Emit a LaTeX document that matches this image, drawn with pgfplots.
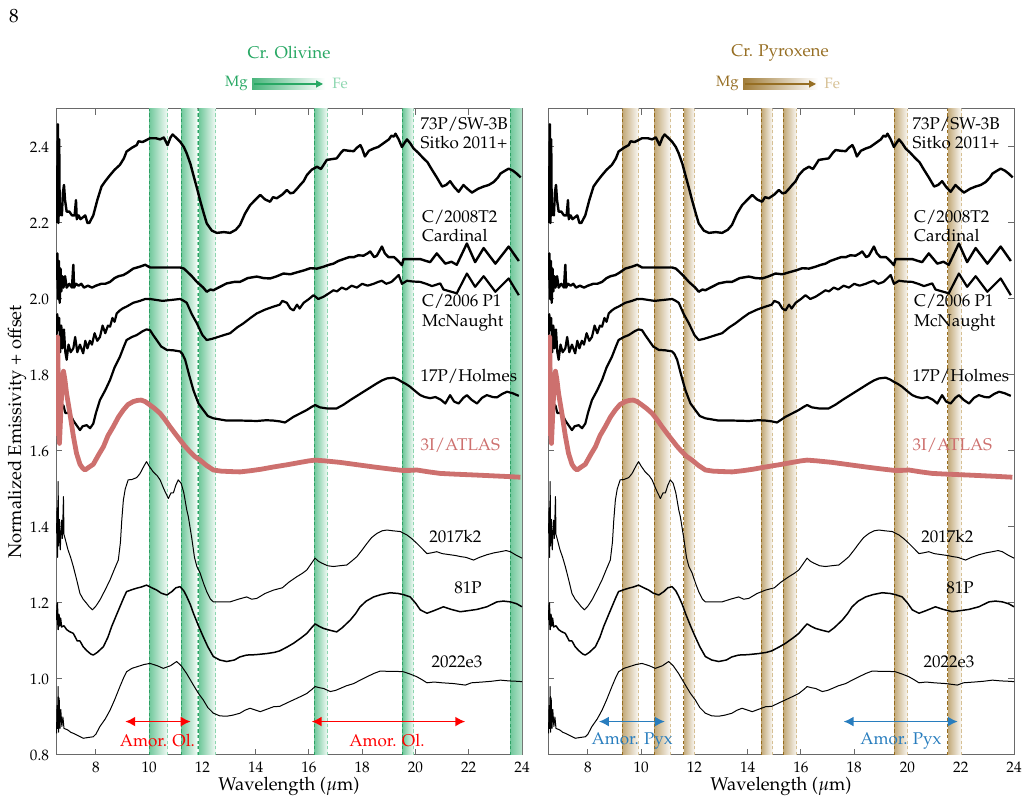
\documentclass[border=0pt]{standalone}
\usepackage[T1]{fontenc}
\usepackage{mathpazo}
\usepackage{pgfplots}
\usepackage{pgfplotstable}
\pgfplotsset{compat=1.18}
\usetikzlibrary{arrows.meta}

\definecolor{olv}{RGB}{40,168,100}
\definecolor{olvband}{RGB}{112,200,155}
\definecolor{olvdash}{RGB}{45,160,100}
\definecolor{olvlight}{RGB}{140,214,175}
\definecolor{pyx}{RGB}{150,110,35}
\definecolor{pyxband}{RGB}{195,170,122}
\definecolor{pyxdash}{RGB}{150,108,30}
\definecolor{pyxlight}{RGB}{214,192,148}
\definecolor{atlas}{RGB}{205,112,110}
\definecolor{amorol}{RGB}{255,0,0}
\definecolor{amorpx}{RGB}{40,125,190}
\definecolor{frame}{RGB}{105,105,105}

\pgfplotstableread{
x y
6.52 2.20
6.55 2.32
6.57 2.46
6.59 2.20
6.62 2.42
6.64 2.22
6.68 2.24
6.72 2.22
6.76 2.28
6.80 2.30
6.84 2.26
6.90 2.23
7.00 2.23
7.10 2.22
7.20 2.22
7.25 2.26
7.28 2.21
7.35 2.22
7.42 2.21
7.60 2.22
7.68 2.20
7.75 2.20
7.90 2.22
8.05 2.26
8.21 2.296
8.35 2.31
8.53 2.326
8.70 2.34
8.90 2.353
9.05 2.37
9.15 2.388
9.35 2.398
9.53 2.405
9.60 2.415
9.75 2.413
10.03 2.423
10.25 2.423
10.41 2.42
10.55 2.425
10.69 2.405
10.80 2.425
10.88 2.433
11.00 2.425
11.16 2.414
11.30 2.40
11.41 2.383
11.55 2.355
11.66 2.326
11.80 2.29
11.91 2.26
12.05 2.225
12.16 2.199
12.35 2.18
12.54 2.174
12.80 2.176
13.04 2.174
13.25 2.182
13.41 2.195
13.60 2.225
13.79 2.247
14.00 2.262
14.17 2.274
14.35 2.262
14.54 2.256
14.65 2.268
14.79 2.265
15.00 2.275
15.17 2.287
15.30 2.278
15.42 2.28
15.55 2.29
15.67 2.30
15.80 2.31
15.92 2.326
16.10 2.34
16.30 2.348
16.45 2.342
16.67 2.366
17.04 2.37
17.20 2.385
17.30 2.392
17.50 2.39
17.68 2.389
17.80 2.398
17.93 2.405
18.00 2.395
18.10 2.375
18.25 2.39
18.43 2.396
18.60 2.40
18.80 2.41
19.00 2.42
19.10 2.43
19.18 2.427
19.25 2.435
19.37 2.42
19.49 2.40
19.58 2.41
19.68 2.42
19.80 2.41
19.93 2.396
20.10 2.385
20.30 2.37
20.45 2.36
20.62 2.34
20.80 2.32
21.00 2.296
21.15 2.30
21.30 2.31
21.45 2.295
21.62 2.282
21.80 2.30
21.95 2.29
22.12 2.28
22.35 2.29
22.56 2.296
22.75 2.30
22.94 2.308
23.10 2.32
23.19 2.33
23.35 2.337
23.50 2.343
23.65 2.338
23.80 2.33
23.95 2.32
}\tSW

\pgfplotstableread{
x y
6.52 2.05
6.55 2.12
6.58 2.00
6.61 2.10
6.64 1.99
6.67 2.08
6.70 2.02
6.74 2.06
6.78 2.03
6.84 2.06
6.90 2.03
7.00 2.04
7.10 2.03
7.15 2.09
7.18 2.03
7.25 2.04
7.35 2.035
7.45 2.04
7.55 2.03
7.70 2.035
7.85 2.03
8.00 2.035
8.20 2.04
8.35 2.04
8.53 2.045
8.70 2.055
8.85 2.06
9.03 2.063
9.20 2.07
9.40 2.08
9.65 2.085
9.85 2.09
10.03 2.083
10.40 2.083
10.80 2.083
11.16 2.083
11.30 2.08
11.41 2.073
11.60 2.06
11.79 2.045
12.03 2.03
12.16 2.019
12.30 2.025
12.41 2.023
12.60 2.03
12.91 2.041
13.20 2.045
13.41 2.045
13.70 2.055
14.04 2.059
14.30 2.055
14.54 2.054
14.80 2.06
15.04 2.067
15.30 2.065
15.54 2.07
15.80 2.075
16.05 2.081
16.30 2.08
16.55 2.085
16.75 2.09
16.92 2.093
17.10 2.10
17.30 2.105
17.50 2.11
17.68 2.11
17.85 2.115
18.05 2.114
18.20 2.12
18.30 2.125
18.45 2.11
18.55 2.114
18.74 2.138
18.85 2.12
18.99 2.11
19.20 2.11
19.35 2.10
19.49 2.089
19.55 2.105
19.80 2.105
20.18 2.105
20.40 2.10
20.55 2.097
20.80 2.12
21.12 2.093
21.35 2.098
21.55 2.09
21.93 2.146
22.24 2.097
22.56 2.134
23.00 2.093
23.50 2.138
23.88 2.10
}\tCard

\pgfplotstableread{
x y
6.52 1.90
6.55 1.96
6.58 1.918
6.62 1.95
6.66 1.86
6.70 1.93
6.75 1.87
6.80 1.92
6.85 1.86
6.90 1.84
6.97 1.88
7.05 1.86
7.15 1.87
7.22 1.90
7.30 1.86
7.40 1.88
7.52 1.857
7.60 1.89
7.68 1.87
7.77 1.89
7.85 1.88
7.95 1.91
8.05 1.89
8.15 1.90
8.25 1.93
8.35 1.91
8.45 1.93
8.53 1.927
8.62 1.95
8.70 1.94
8.78 1.962
8.90 1.97
9.00 1.975
9.15 1.98
9.40 1.99
9.65 1.995
9.85 2.0
10.03 2.0
10.50 1.995
11.16 2.0
11.30 1.995
11.41 1.99
11.60 1.96
11.79 1.936
12.00 1.905
12.16 1.892
12.35 1.895
12.54 1.899
12.80 1.905
13.04 1.91
13.30 1.925
13.54 1.936
13.80 1.95
14.04 1.962
14.35 1.972
14.67 1.98
14.90 1.985
15.00 1.995
15.17 1.99
15.30 1.975
15.42 1.97
15.55 1.985
15.65 1.975
15.80 1.99
16.00 2.00
16.17 2.01
16.35 2.0
16.55 2.006
16.75 2.015
16.92 2.023
17.05 2.02
17.23 2.03
17.40 2.025
17.60 2.035
17.80 2.03
18.00 2.04
18.20 2.035
18.43 2.04
18.60 2.045
18.74 2.048
18.90 2.04
19.10 2.045
19.37 2.063
19.49 2.04
19.68 2.048
19.90 2.046
20.18 2.045
20.40 2.04
20.62 2.034
20.93 2.041
21.05 2.025
21.30 2.02
21.55 2.015
21.93 2.067
22.24 2.032
22.56 2.06
23.00 2.019
23.50 2.054
23.88 2.01
}\tMcN

\pgfplotstableread{
x y
6.52 1.76
6.55 1.82
6.57 1.74
6.60 1.86
6.63 1.72
6.66 1.78
6.70 1.71
6.78 1.72
6.85 1.70
6.95 1.70
7.02 1.699
7.15 1.68
7.25 1.67
7.40 1.655
7.50 1.665
7.65 1.668
7.78 1.66
7.90 1.672
8.00 1.70
8.15 1.734
8.35 1.76
8.53 1.787
8.70 1.82
8.90 1.848
9.05 1.875
9.15 1.892
9.35 1.90
9.53 1.905
9.75 1.915
9.90 1.92
10.03 1.918
10.15 1.905
10.28 1.892
10.45 1.875
10.66 1.866
10.90 1.865
11.16 1.862
11.25 1.855
11.35 1.84
11.50 1.80
11.66 1.76
11.85 1.725
12.03 1.708
12.20 1.692
12.41 1.686
12.91 1.68
13.50 1.68
14.04 1.679
14.40 1.681
14.67 1.68
14.90 1.678
15.10 1.675
15.25 1.682
15.42 1.69
15.70 1.70
15.92 1.708
16.10 1.716
16.23 1.721
16.40 1.715
16.67 1.712
17.04 1.712
17.30 1.722
17.55 1.734
17.80 1.745
18.05 1.756
18.30 1.767
18.55 1.778
18.75 1.786
18.93 1.791
19.18 1.793
19.35 1.788
19.49 1.782
19.65 1.776
19.80 1.769
20.00 1.757
20.18 1.747
20.35 1.742
20.55 1.739
20.75 1.742
20.95 1.735
21.12 1.725
21.30 1.747
21.45 1.73
21.62 1.725
21.80 1.74
21.93 1.747
22.10 1.735
22.31 1.725
22.50 1.74
22.68 1.747
22.90 1.742
23.06 1.741
23.25 1.75
23.44 1.756
23.65 1.752
23.88 1.745
}\tHol

\pgfplotstableread{
x y
6.52 1.64
6.54 1.78
6.56 1.90
6.58 1.80
6.60 1.65
6.63 1.62
6.68 1.70
6.73 1.78
6.78 1.81
6.83 1.79
6.90 1.75
7.02 1.70
7.15 1.64
7.27 1.594
7.40 1.565
7.50 1.555
7.59 1.55
7.75 1.558
7.90 1.565
8.10 1.59
8.28 1.611
8.45 1.64
8.65 1.664
8.85 1.69
9.03 1.708
9.20 1.722
9.40 1.73
9.55 1.733
9.70 1.734
9.85 1.73
10.03 1.721
10.20 1.712
10.41 1.699
10.60 1.682
10.78 1.664
10.95 1.648
11.16 1.629
11.35 1.612
11.53 1.598
11.70 1.586
11.91 1.576
12.15 1.562
12.41 1.55
12.70 1.547
13.00 1.546
13.41 1.545
13.80 1.548
14.20 1.552
14.67 1.558
15.20 1.564
15.67 1.57
16.00 1.574
16.23 1.576
16.60 1.574
17.17 1.57
17.80 1.564
18.43 1.558
19.00 1.553
19.49 1.549
19.80 1.549
20.05 1.55
20.50 1.545
20.93 1.541
21.50 1.539
22.18 1.537
22.80 1.535
23.40 1.533
23.94 1.531
}\tAtl

\pgfplotstableread{
x y
6.52 1.383
6.54 1.45
6.56 1.32
6.58 1.52
6.60 1.35
6.63 1.42
6.66 1.34
6.71 1.418
6.74 1.37
6.78 1.48
6.80 1.38
6.84 1.37
6.95 1.34
7.05 1.32
7.15 1.296
7.28 1.26
7.40 1.225
7.52 1.21
7.65 1.199
7.75 1.19
7.87 1.182
8.00 1.192
8.15 1.208
8.35 1.235
8.53 1.261
8.70 1.29
8.84 1.313
8.92 1.36
8.97 1.418
9.03 1.471
9.10 1.50
9.21 1.524
9.35 1.525
9.53 1.53
9.65 1.54
9.80 1.56
9.90 1.572
10.00 1.56
10.15 1.545
10.30 1.535
10.41 1.524
10.55 1.50
10.72 1.475
10.82 1.49
10.91 1.49
11.00 1.51
11.09 1.524
11.20 1.515
11.30 1.49
11.41 1.445
11.47 1.427
11.60 1.37
11.70 1.32
11.79 1.296
11.91 1.279
12.05 1.25
12.16 1.23
12.30 1.21
12.41 1.203
12.70 1.203
13.04 1.203
13.35 1.21
13.66 1.216
13.85 1.21
14.04 1.212
14.35 1.225
14.67 1.234
15.00 1.24
15.25 1.255
15.54 1.269
15.75 1.278
15.92 1.287
16.10 1.305
16.23 1.318
16.35 1.31
16.48 1.305
16.70 1.298
16.92 1.296
17.15 1.298
17.42 1.30
17.60 1.31
17.80 1.322
18.00 1.34
18.18 1.357
18.35 1.372
18.55 1.383
18.75 1.39
18.93 1.392
19.15 1.39
19.43 1.388
19.68 1.379
19.85 1.37
20.05 1.357
20.25 1.343
20.43 1.33
20.60 1.332
20.80 1.335
21.00 1.33
21.30 1.327
21.50 1.325
21.70 1.322
21.90 1.32
22.18 1.313
22.40 1.32
22.68 1.327
22.95 1.332
23.19 1.335
23.40 1.338
23.56 1.335
23.80 1.325
24.00 1.318
}\tKtwo

\pgfplotstableread{
x y
6.52 1.155
6.55 1.20
6.58 1.13
6.61 1.17
6.64 1.14
6.67 1.16
6.71 1.137
6.80 1.14
6.90 1.13
7.00 1.125
7.15 1.12
7.30 1.10
7.40 1.10
7.52 1.085
7.65 1.075
7.80 1.066
7.90 1.063
8.05 1.07
8.28 1.085
8.45 1.11
8.59 1.138
8.75 1.165
8.90 1.19
9.05 1.215
9.15 1.23
9.35 1.235
9.53 1.239
9.70 1.242
9.90 1.247
10.10 1.24
10.28 1.234
10.45 1.226
10.66 1.221
10.85 1.23
11.00 1.24
11.16 1.243
11.30 1.232
11.41 1.217
11.55 1.195
11.66 1.173
11.85 1.14
12.03 1.111
12.20 1.085
12.41 1.059
12.65 1.05
12.91 1.046
13.20 1.05
13.40 1.058
13.66 1.063
14.00 1.064
14.42 1.067
14.70 1.07
14.90 1.074
15.20 1.085
15.42 1.094
15.70 1.108
15.92 1.12
16.10 1.135
16.23 1.145
16.40 1.138
16.55 1.133
16.80 1.128
17.04 1.124
17.25 1.135
17.55 1.155
17.75 1.172
17.92 1.19
18.15 1.205
18.43 1.216
18.70 1.222
19.05 1.227
19.35 1.225
19.55 1.222
19.80 1.216
20.00 1.20
20.18 1.182
20.43 1.173
20.70 1.18
21.05 1.19
21.35 1.183
21.68 1.177
22.00 1.18
22.30 1.183
22.68 1.19
23.06 1.203
23.30 1.205
23.56 1.203
23.80 1.198
24.00 1.19
}\tEightyOne

\pgfplotstableread{
x y
6.52 0.857
6.54 0.93
6.56 0.87
6.58 0.98
6.60 0.86
6.62 0.95
6.65 0.87
6.68 0.92
6.72 0.875
6.76 0.90
6.80 0.87
6.94 0.866
7.05 0.86
7.15 0.857
7.30 0.852
7.52 0.844
7.70 0.846
7.90 0.848
8.00 0.855
8.15 0.875
8.35 0.895
8.53 0.918
8.70 0.945
8.90 0.98
9.05 1.005
9.15 1.019
9.35 1.028
9.53 1.032
9.80 1.038
10.03 1.041
10.30 1.035
10.53 1.028
10.80 1.035
11.03 1.046
11.20 1.035
11.40 1.015
11.66 0.984
11.85 0.962
12.03 0.945
12.20 0.925
12.41 0.91
12.65 0.903
12.91 0.902
13.15 0.905
13.41 0.91
13.60 0.918
13.79 0.923
14.00 0.918
14.17 0.914
14.40 0.92
14.67 0.927
14.90 0.928
15.20 0.938
15.54 0.949
15.75 0.956
15.92 0.962
16.10 0.972
16.23 0.98
16.40 0.977
16.55 0.975
16.80 0.967
17.00 0.97
17.17 0.975
17.40 0.982
17.68 0.988
17.95 0.998
18.18 1.006
18.45 1.015
18.68 1.021
19.00 1.02
19.30 1.02
19.55 1.019
19.80 1.013
20.05 1.006
20.25 0.998
20.43 0.99
20.70 0.992
21.00 0.99
21.43 0.988
21.87 0.984
22.10 0.99
22.50 0.992
22.85 0.994
23.19 0.997
23.50 0.995
23.80 0.994
24.00 0.993
}\tEtwo

% band: x1, x2, fill colour, dash-left colour, dash-right colour
\newcommand{\band}[5]{%
  \addplot[draw=none, left color=#3, right color=white!92!#3, forget plot]
    coordinates {(#1,0.8) (#1,2.5) (#2,2.5) (#2,0.8)};
  \addplot[#4, line width=0.5pt, dash pattern=on 1.6pt off 1.2pt, forget plot]
    coordinates {(#1,0.8) (#1,2.5)};
  \addplot[#5, line width=0.5pt, dash pattern=on 1.6pt off 1.2pt, forget plot]
    coordinates {(#2,0.8) (#2,2.5)};
}

\newcommand{\curves}{%
  \addplot[black, line width=1.2pt, line join=round] table {\tSW};
  \addplot[black, line width=1.2pt, line join=round] table {\tCard};
  \addplot[black, line width=1.1pt, line join=round] table {\tMcN};
  \addplot[black, line width=1.1pt, line join=round] table {\tHol};
  \addplot[black, line width=0.5pt, line join=round] table {\tKtwo};
  \addplot[black, line width=0.75pt, line join=round] table {\tEightyOne};
  \addplot[black, line width=0.5pt, line join=round] table {\tEtwo};
  \addplot[atlas, line width=2.4pt, line join=round] table {\tAtl};
}

\newcommand{\labels}{%
  \node[anchor=west, align=left, font=\fontsize{8.5}{9.6}\selectfont] at (axis cs:19.93,2.436) {73P/SW-3B\\Sitko 2011+};
  \node[anchor=west, align=left, font=\fontsize{8.5}{9.6}\selectfont] at (axis cs:19.98,2.191) {C/2008T2\\Cardinal};
  \node[anchor=west, align=left, font=\fontsize{8.5}{9.6}\selectfont] at (axis cs:19.98,1.964) {C/2006 P1\\McNaught};
  \node[anchor=west, font=\fontsize{8.5}{9.6}\selectfont] at (axis cs:19.93,1.796) {17P/Holmes};
  \node[anchor=west, text=atlas, font=\fontsize{8.5}{9.6}\selectfont] at (axis cs:19.93,1.614) {3I/ATLAS};
  \node[font=\fontsize{8.5}{9.6}\selectfont] at (axis cs:21.5,1.376) {2017k2};
  \node[font=\fontsize{8.5}{9.6}\selectfont] at (axis cs:21.97,1.239) {81P};
  \node[font=\fontsize{8.5}{9.6}\selectfont] at (axis cs:21.56,1.046) {2022e3};
}

\tikzset{amorarrow/.style={line width=0.9pt, {Latex[length=5pt,width=5pt]}-{Latex[length=5pt,width=5pt]}}}

\pgfplotsset{
  panel/.style={
    anchor=south west, scale only axis, width=233pt, height=323pt,
    xmin=6.5, xmax=24, ymin=0.8, ymax=2.5,
    xtick={8,10,12,14,16,18,20,22,24},
    ytick={0.8,1.0,1.2,1.4,1.6,1.8,2.0,2.2,2.4},
    yticklabel style={/pgf/number format/fixed, /pgf/number format/precision=1, /pgf/number format/fixed zerofill},
    tick align=inside, major tick length=3pt,
    axis line style={frame, line width=0.5pt},
    tick style={frame, line width=0.5pt},
    tick label style={font=\fontsize{7.6}{9}\selectfont},
    label style={font=\fontsize{9.2}{11}\selectfont},
    xlabel={Wavelength ($\mu$m)},
    xlabel style={yshift=4.5pt},
    ylabel style={yshift=-5pt},
  }
}

\begin{document}
\begin{tikzpicture}
\path[use as bounding box] (0,0) rectangle (513.5pt,401pt);

\node[font=\fontsize{9.6}{11}\selectfont] at (7pt,393pt) {8};

% ---------- titles ----------
\node[text=olv, font=\fontsize{8.5}{10}\selectfont] at (144.5pt,374.5pt) {Cr. Olivine};
\shade[left color=olv!85, right color=white] (126pt,356.3pt) rectangle (162.5pt,361.8pt);
\draw[olv, line width=0.6pt, -{Triangle[length=3.5pt,width=3.5pt]}] (127pt,359pt) -- (161.5pt,359pt);
\node[anchor=east, text=olv, font=\fontsize{7.5}{8}\selectfont, inner sep=1pt] at (125pt,359.5pt) {Mg};
\node[anchor=west, text=olvlight, font=\fontsize{7.5}{8}\selectfont, inner sep=1pt] at (165pt,359.5pt) {Fe};

\node[text=pyx, font=\fontsize{8.5}{10}\selectfont] at (390pt,374.5pt) {Cr. Pyroxene};
\shade[left color=pyx!90, right color=white] (371.5pt,356.3pt) rectangle (409pt,361.8pt);
\draw[pyx, line width=0.6pt, -{Triangle[length=3.5pt,width=3.5pt]}] (372.5pt,359pt) -- (408pt,359pt);
\node[anchor=east, text=pyx, font=\fontsize{7.5}{8}\selectfont, inner sep=1pt] at (370.5pt,359.5pt) {Mg};
\node[anchor=west, text=pyxlight, font=\fontsize{7.5}{8}\selectfont, inner sep=1pt] at (411pt,359.5pt) {Fe};

% ---------- left panel: olivine ----------
\begin{axis}[panel, at={(28pt,23.5pt)},
  ylabel={Normalized Emissivity + offset}]
\band{10.0}{10.7}{olvband}{olvdash}{olvlight}
\band{11.2}{11.8}{olvband}{olvdash}{olvlight}
\band{11.87}{12.5}{olvband}{olvdash}{olvlight}
\band{16.2}{16.7}{olvband}{olvdash}{olvlight}
\band{19.52}{19.93}{olvband}{olvdash}{olvlight}
\band{23.55}{24.4}{olvband}{olvdash}{olvlight}
\curves
\addplot[amorol, amorarrow] coordinates {(9.1,0.888) (11.56,0.888)};
\addplot[amorol, amorarrow] coordinates {(16.1,0.888) (21.87,0.888)};
\node[text=amorol, font=\fontsize{8.5}{10}\selectfont] at (axis cs:10.31,0.838) {Amor. Ol.};
\node[text=amorol, font=\fontsize{8.5}{10}\selectfont] at (axis cs:18.93,0.838) {Amor. Ol.};
\labels
\end{axis}

% ---------- right panel: pyroxene ----------
\begin{axis}[panel, at={(274pt,23.5pt)}, yticklabels={}]
\band{9.3}{9.9}{pyxband}{pyxdash}{pyxlight}
\band{10.5}{11.1}{pyxband}{pyxdash}{pyxlight}
\band{11.6}{12.0}{pyxband}{pyxdash}{pyxlight}
\band{14.52}{14.93}{pyxband}{pyxdash}{pyxlight}
\band{15.35}{15.85}{pyxband}{pyxdash}{pyxlight}
\band{19.5}{20.01}{pyxband}{pyxdash}{pyxlight}
\band{21.52}{22.02}{pyxband}{pyxdash}{pyxlight}
\curves
\addplot[amorpx, amorarrow] coordinates {(8.41,0.888) (10.89,0.888)};
\addplot[amorpx, amorarrow] coordinates {(17.6,0.888) (21.89,0.888)};
\node[text=amorpx, font=\fontsize{8.5}{10}\selectfont] at (axis cs:9.66,0.838) {Amor. Pyx};
\node[text=amorpx, font=\fontsize{8.5}{10}\selectfont] at (axis cs:19.75,0.838) {Amor. Pyx};
\labels
\end{axis}
\end{tikzpicture}
\end{document}
